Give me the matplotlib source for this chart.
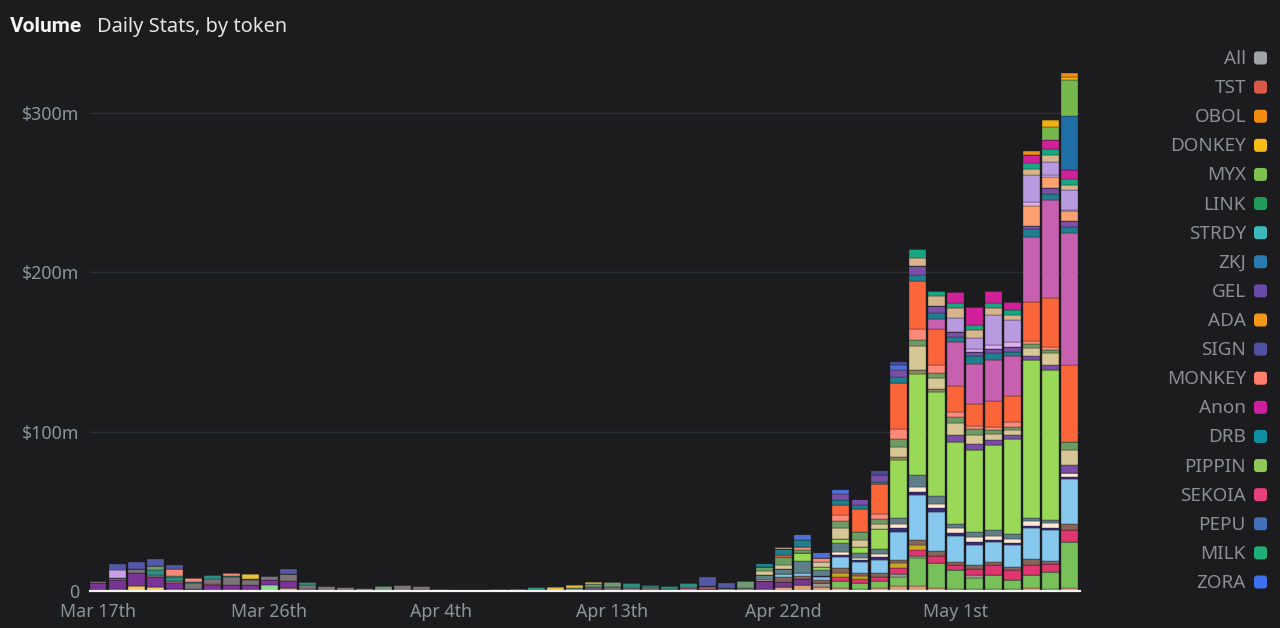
import numpy as np
import pandas as pd
import matplotlib
matplotlib.use("Agg")
import matplotlib.pyplot as plt
from matplotlib.patches import FancyBboxPatch

# days, $m per token slice
days = pd.date_range("2025-03-17", periods=52)
tick_days = [0, 9, 18, 27, 36, 45]
tick_labels = ["Mar 17th", "Mar 26th", "Apr 4th", "Apr 13th", "Apr 22nd", "May 1st"]
y_ticks = [0, 100, 200, 300]
y_labels = ["0", "$100m", "$200m", "$300m"]

# first stretch, days 0 to 34
e_tan = [0,1,0,0,1,0,0,0,0,0,1.7,0,0,0,0,0,0,.7,0,0,0,0,0,0,0,0,1,0,0,0,0,0,0,0,0]
e_butter = [0,0,3,2.7,0,0,0,0,0,0,0,0,0,0,0,0,0,0,0,0,0,0,0,0,0,0,0,0,0,0,0,0,0,0,0]
e_mint = [0,0,0,0,0,0,0,0,0,3.7,0,0,0,0,0,0,0,0,0,0,0,0,0,0,0,0,0,0,0,0,0,0,0,0,0]
e_purple = [5.2,5.8,8,6.3,4,1,3.7,3.7,3.7,3,4.8,0,0,0,0,0,0,0,0,0,0,0,0,0,0,0,0,0,0,0,0,0,1,0,0]
e_rose = [0,0,0,0,1,0,1,0,0,0,0,1,0,0,0,0,0,0,0,0,0,0,0,0,.3,0,0,.5,0,1.2,0,2,1.5,0,0]
e_gray = [.8,1.4,2.5,1.2,0,4,3,4.8,3.5,3,4,2.7,3,2.5,2,0,3.5,2.3,1.5,.8,.8,1,0,0,0,0,1.5,2,2,1,1,0,.5,2,2]
e_teal = [0,0,0,2.7,2.7,.5,2.5,1,.5,0,0,1.7,0,0,0,0,0,0,0,0,0,0,0,2.5,0,0,0,0,3,1.5,2,3,0,0,0]
e_sage = [0,0,0,3,.8,0,0,0,0,0,0,0,0,0,0,3,0,0,0,0,0,0,1.2,0,0,2,2,3,0,0,0,0,0,0,4.5]
e_salmon = [0,0,0,0,4.2,2.5,0,1.5,0,0,0,0,0,0,0,0,0,0,0,0,0,0,0,0,0,0,0,0,0,0,0,0,0,0,0]
e_yellow = [0,0,0,0,0,0,0,0,3,0,0,0,0,0,0,0,0,0,0,0,0,0,0,0,2.5,2,1,0,0,0,0,0,0,0,0]
e_lilac = [0,5.2,0,0,0,0,0,0,0,0,0,0,0,0,0,0,0,0,0,0,0,0,0,0,0,0,0,0,0,0,0,0,0,0,0]
e_indigo = [0,3.4,4.5,4.4,2.6,0,0,0,0,0,3.4,0,0,0,0,0,0,0,0,0,0,0,0,0,0,0,0,0,0,0,0,0,5.5,3,0]

early_series = [e_tan, e_butter, e_mint, e_purple, e_rose, e_gray, e_teal, e_sage,
                e_salmon, e_yellow, e_lilac, e_indigo]
early_colors = ["#e0b088", "#f5c860", "#8cdc90", "#7a3496", "#b8647c", "#7c7478", "#2f8f84",
                "#6f9a72", "#f58a78", "#e8c040", "#c8a0e8", "#5458a8"]

# second stretch, days 35 to 51
tan = [1,2.5,3.5,2.5,2,1,2,3,3,2,1.5,1,1.5,1,2,1,2]
milk = [0,0,0,0,4,4,4,6,17.5,15.7,11.5,7,8.3,6,8.3,11,29]
ash = [0,0,0,2.5,0,0,0,1.6,1.5,0,0,2,0,0,0,0,0]
violet = [5,3,4,0,0,0,0,0,0,0,0,0,0,0,0,0,0]
sekoia = [0,0,0,0,2.5,2.7,3,4,4,4.5,3,4,6.3,6.3,6,4.8,7.3]
gold = [0,0,0,0,2.7,2,0,2.7,3,0,0,0,0,0,0,0,0]
brown = [0,3,2,2,3,1.5,2,2,3,3,2,2,2,2,3.7,2,4]
sky = [0,2,2,2,7,7,8.6,18,28,24.6,16.3,13,12.5,13.6,19.6,19.6,28]
navy = [0,0,0,.5,1.5,1,1.7,2,2,2,2,1.7,1.2,1,1.2,1.2,1]
cream = [.8,0,0,0,1.5,1.5,2,2.7,3.5,3,3,3,2.5,2.7,3,2.9,3]
slate = [3,3,7.5,3.5,6,3,3.3,4,7.5,5,2.7,3.3,4.2,3,2,2.3,0]
pippin = [0,0,4.6,2,2.5,4,12,36,63,64.8,51.6,51.6,53,59.6,99,94,0]
olive = [0,0,0,0,0,0,0,2,2.5,2,0,0,0,0,0,0,0]
plum = [0,0,0,0,0,0,0,0,0,0,4,3.8,3,2.5,2.5,3,5]
khaki = [3,3,0,3.5,7,4.5,3.5,6.5,15,7.3,7.7,5.6,4,3.5,5,7.3,9.4]
sage = [2,5,2,0,4,4.5,3,5,4,2.7,4,3.5,2.5,1.7,2.7,2,5]
salmon = [0,0,2.3,2.5,4,0,3,6,7,5,3,1.7,2,3,1.7,1.7,0]
orange = [0,1,0,0,6.3,15,19,29,30,22.6,16,14,16,16.3,24.5,31,48]
orchid = [0,0,0,0,0,0,0,0,0,6.7,28,25,26,25,41,61.4,83]
drb = [3,4,4,0,3,2,1.5,4,3.5,3.4,3,5,4,3,4.6,3.8,3.5]
gel = [0,0,0,0,3.7,4,4,4,6,4.6,3,2.7,2.7,2.7,2,3.8,4]
zora = [0,0,4,3.5,3,0,0,3,0,0,0,0,0,0,0,0,0]
sign = [0,0,0,0,0,0,3.5,2.5,0,0,0,0,0,0,0,0,0]
peach = [0,0,0,0,0,0,0,0,0,0,0,0,0,0,13,6.7,6]
pale = [0,0,0,0,0,0,0,0,0,0,0,2,2.7,3,2.5,1.5,1]
lilac = [0,0,0,0,0,0,0,0,0,0,9,7,19,14.4,16.7,8.4,12.5]
sand = [0,1,0,0,0,0,0,0,5,6.3,6,5,4,3,4,4.2,3]
jade = [0,0,0,0,0,0,0,0,5.5,3.3,3.5,2.7,3.5,2.7,3.3,3.8,3.5]
anon = [0,0,0,0,0,0,0,0,0,0,7,11.5,7,5.6,5,5.6,6]
zkj = [0,0,0,0,0,0,0,0,0,0,0,0,0,0,0,0,33.5]
myx = [0,0,0,0,0,0,0,0,0,0,0,0,0,0,0,8,23]
donkey = [0,0,0,0,0,0,0,0,0,0,0,0,0,0,0,4.6,2]
obol = [0,0,0,0,0,0,0,0,0,0,0,0,0,0,2.5,0,2]

late_series = [tan, milk, ash, violet, sekoia, gold, brown, sky, navy, cream, slate, pippin,
               olive, plum, khaki, sage, salmon, orange, orchid, drb, gel, zora, sign,
               peach, pale, lilac, sand, jade, anon, zkj, myx, donkey, obol]
late_colors = ["#dca070", "#78c05a", "#9a9a90", "#74388c", "#e0366f", "#c8a820", "#86645a",
               "#86c8ee", "#3a2c7c", "#ffe8d2", "#5f7f88", "#9ad858", "#8f8462", "#7a4ea6",
               "#d6c795", "#6c9c62", "#ff8a7c", "#fb653a", "#c860b0", "#1f7f8c", "#7a4fa8",
               "#4a70d8", "#4a4a98", "#ffa070", "#dcb0ee", "#b89ae0", "#d6b58c", "#17a67f",
               "#d0209a", "#1f6fa5", "#76b84c", "#f0b010", "#f09010"]

legend_names = ["All", "TST", "OBOL", "DONKEY", "MYX", "LINK", "STRDY", "ZKJ", "GEL", "ADA",
                "SIGN", "MONKEY", "Anon", "DRB", "PIPPIN", "SEKOIA", "PEPU", "MILK", "ZORA"]
legend_colors = ["#a0a4a8", "#d9584a", "#f08c10", "#f8bc18", "#80c050", "#1f9a5a", "#3cb8bc",
                 "#2a7ab0", "#6a4aa8", "#f09a18", "#5050a0", "#ff7f6c", "#d01ea0", "#0e8fa0",
                 "#90c858", "#e8407c", "#3f70b8", "#1fae78", "#3f70f0"]

bg = "#1c1c1e"
W, H = 1280, 628
plt.rcParams["font.family"] = "Noto Sans"

fig = plt.figure(figsize=(W / 100, H / 100), dpi=100, facecolor=bg)
ax = fig.add_axes([90 / W, 1 - 591 / H, 990 / W, 542 / H], facecolor=bg)


def stack(x, series, colors):
    bottom = np.zeros(len(x))
    for vals, col in zip(series, colors):
        vals = np.array(vals, dtype=float)
        ax.bar(x, vals, bottom=bottom, width=0.89, color=col,
               edgecolor=bg, linewidth=0.25, zorder=3)
        bottom += vals


x = np.arange(len(days))
stack(x[:35], early_series, early_colors)
stack(x[35:], late_series, late_colors)

ax.set_xlim(-0.42, 51.55)
ax.set_ylim(0, 340)
ax.set_yticks(y_ticks)
ax.set_yticklabels(y_labels)
ax.set_xticks(tick_days)
ax.set_xticklabels(tick_labels)
ax.tick_params(axis="both", length=0, labelcolor="#8a949b", labelsize=12.8)
ax.tick_params(axis="y", pad=8)
ax.tick_params(axis="x", pad=8.5)
ax.grid(axis="y", color="#2b3036", linewidth=1, zorder=0)
for s in ["top", "right", "left"]:
    ax.spines[s].set_visible(False)
ax.spines["bottom"].set_color("#f2f2f2")
ax.spines["bottom"].set_linewidth(1.6)
ax.spines["bottom"].set_zorder(5)

# title and legend sit in pixel coordinates over the whole figure
over = fig.add_axes([0, 0, 1, 1], facecolor="none")
over.set_xlim(0, W)
over.set_ylim(H, 0)
over.axis("off")
over.text(10, 27, "Volume", color="#f4f4f4", fontsize=15, fontweight="bold",
          family="Roboto", va="center")
over.text(97, 27, "Daily Stats, by token", color="#e4e4e4", fontsize=14.4, va="center")

legend_y = np.linspace(58, 582, len(legend_names))
for name, col, y in zip(legend_names, legend_colors, legend_y):
    over.text(1246, y + 1, name, color="#8a8f96", fontsize=13.6, ha="right", va="center")
    over.add_patch(FancyBboxPatch((1255, y - 5.5), 11, 11,
                                  boxstyle="round,pad=1,rounding_size=3",
                                  facecolor=col, edgecolor="none"))

fig.savefig("out.png", dpi=100, facecolor=bg)
